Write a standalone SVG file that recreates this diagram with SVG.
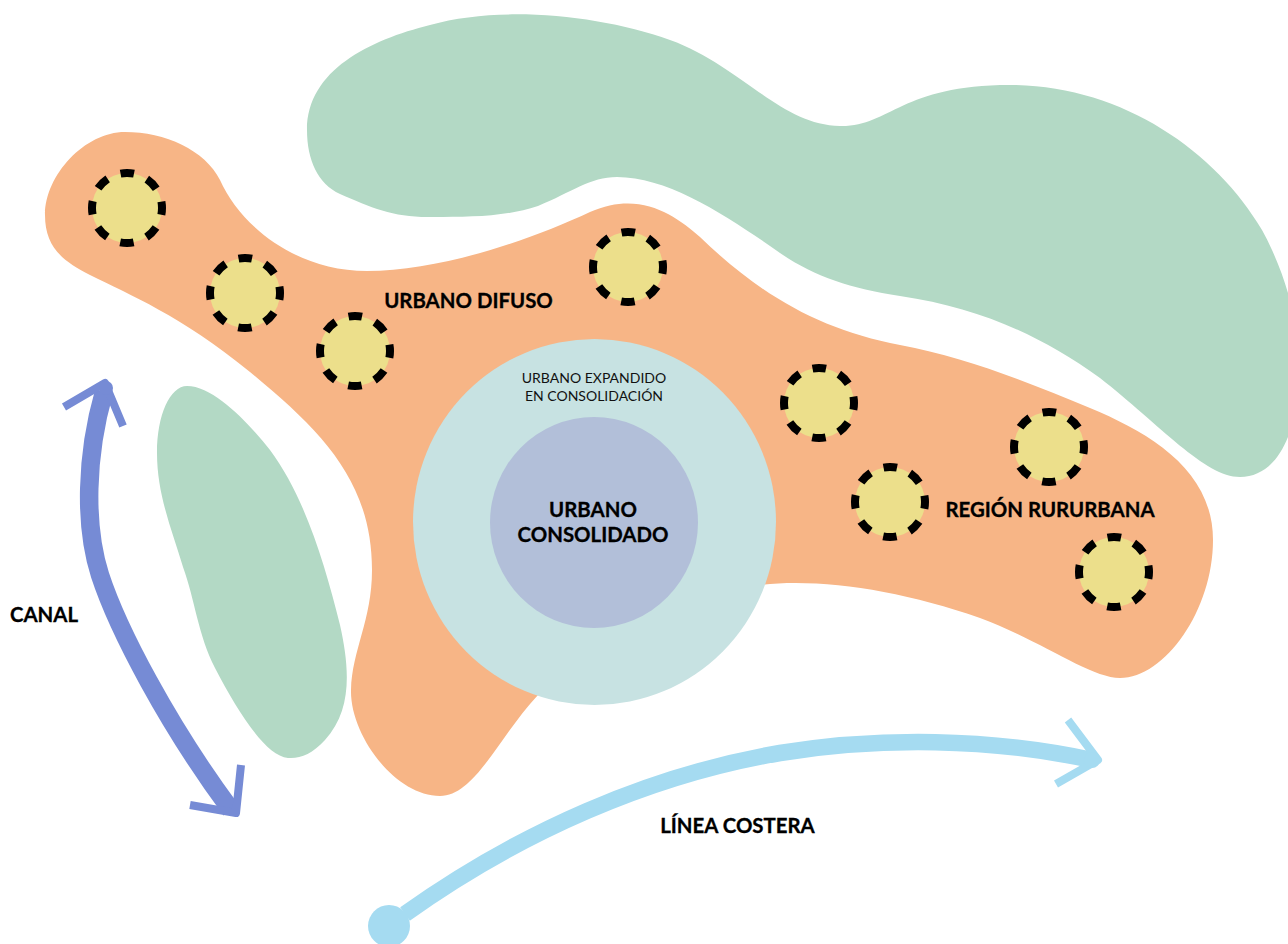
<svg xmlns="http://www.w3.org/2000/svg" width="1288" height="944" viewBox="0 0 1288 944">
<style>
.green{fill:#b3d9c5}
.town{fill:#ecdf8b;stroke:#000;stroke-width:8;stroke-dasharray:13.5 13.99;stroke-dashoffset:6.75}
.b{font-family:Lato,"Liberation Sans",sans-serif;font-weight:700;fill:#000;stroke:#000;stroke-width:.3;font-size:20.4px;text-anchor:middle}
.s{font-family:Lato,"Liberation Sans",sans-serif;font-weight:400;fill:#111;font-size:14px;text-anchor:middle}
.canal{fill:none;stroke:#768bd5;stroke-linejoin:round}
.coast{fill:none;stroke:#a5dbf1;stroke-linejoin:round}
</style>
<rect width="1288" height="944" fill="#fff"/>
<g id="green-top"><path class="green" d="M307,130C307,70 370,40 430,25C500,5 600,15 670,40C740,65 780,125 840,126C890,127 900,85 1010,85C1120,85 1215,150 1262,230C1272,248 1282,272 1288,293L1288,437C1278,462 1262,477 1240,477C1205,477 1160,425 1100,378C1040,335 980,308 900,296C850,288 815,277 780,253C730,218 670,177 617,177C590,177 572,192 538,206C505,217 470,217 433,217C395,218 372,208 340,194C318,184 307,160 307,130Z"/></g>
<g id="green-left"><path class="green" d="M187,386C215,386 250,425 270,450C305,497 325,565 340,625C350,670 352,710 325,740C312,754 300,759 288,758C265,756 237,710 215,668C198,635 195,600 183,567C172,530 157,495 157,453C157,415 170,386 187,386Z"/></g>
<g id="urbano-difuso"><path fill="#f7b586" d="M45,215C45,175 85,132 125,132C165,132 205,150 220,180C240,225 295,271 367,271C440,271 530,240 590,212C640,190 675,215 700,237C760,295 820,330 900,345C965,357 1030,383 1090,408C1150,433 1213,470 1213,540C1213,610 1165,678 1120,678C1090,678 1040,640 980,618C900,590 820,578 760,585L538,695C500,735 475,796 440,796C395,796 350,735 351,690C352,650 372,620 372,570C372,480 320,430 250,372C180,315 130,295 90,275C60,260 45,245 45,215Z"/>
<text class="b" x="468.500" y="308">URBANO DIFUSO</text>
<text class="b" x="1050" y="517">REGIÓN RURURBANA</text></g>
<g id="urbano-expandido"><ellipse cx="594.500" cy="522" rx="181.500" ry="183" fill="#c7e2e2"/>
<text class="s" x="594" y="383">URBANO EXPANDIDO</text>
<text class="s" x="594" y="401">EN CONSOLIDACIÓN</text></g>
<g id="urbano-consolidado"><ellipse cx="594" cy="522.500" rx="104" ry="105.500" fill="#b2bfd9"/>
<text class="b" x="593" y="517">URBANO</text>
<text class="b" x="593" y="542">CONSOLIDADO</text></g>
<g id="towns">
<g id="t1"><circle class="town" cx="127" cy="208" r="35"/></g>
<g id="t2"><circle class="town" cx="245" cy="293" r="35"/></g>
<g id="t3"><circle class="town" cx="355" cy="351" r="35"/></g>
<g id="t4"><circle class="town" cx="628" cy="267" r="35"/></g>
<g id="t5"><circle class="town" cx="819" cy="403" r="35"/></g>
<g id="t6"><circle class="town" cx="890" cy="502" r="35"/></g>
<g id="t7"><circle class="town" cx="1049" cy="447" r="35"/></g>
<g id="t8"><circle class="town" cx="1114" cy="572" r="35"/></g>
</g>
<g id="connectors">
<path class="canal" stroke-width="18.500" d="M104,392C86,455 84,525 100,575C118,630 168,725 231,810"/>
<path class="canal" stroke-width="8" d="M64,407L105,383L123,426M190,805L236,813L241,765"/>
<circle cx="106" cy="388" r="7" fill="#768bd5"/>
<path class="coast" stroke-width="16.500" d="M405,914C520,832 650,775 780,753C880,737 990,738 1092,760"/>
<path class="coast" stroke-width="8" d="M1068,720L1098,760L1056,784"/>
<circle cx="389" cy="926" r="21" fill="#a5dbf1"/>
<circle cx="1092" cy="760" r="8" fill="#a5dbf1"/>
</g>
<text class="b" x="44" y="622">CANAL</text>
<text class="b" x="737.500" y="832.500">LÍNEA COSTERA</text>
</svg>
